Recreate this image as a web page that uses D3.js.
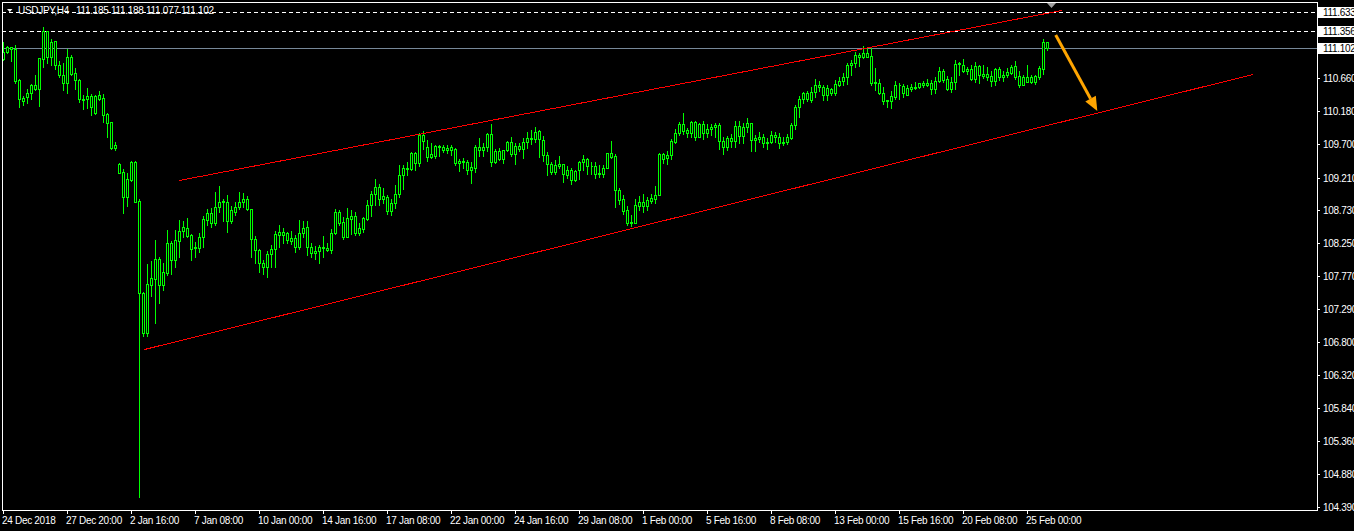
<!DOCTYPE html>
<html><head><meta charset="utf-8">
<script src="https://cdn.jsdelivr.net/npm/d3@7"></script>
<style>
html,body{margin:0;padding:0;background:#000;overflow:hidden;}
svg{display:block;}
text{font-family:"Liberation Sans",Arial,sans-serif;font-size:10px;letter-spacing:-0.3px;}
</style></head><body>
<svg id="chart" width="1354" height="531"></svg>
<script>
// ---------------- data ----------------
const symbol = "USDJPY,H4";
const xTickLabels = ["24 Dec 2018","27 Dec 20:00","2 Jan 16:00","7 Jan 08:00","10 Jan 00:00","14 Jan 16:00",
  "17 Jan 08:00","22 Jan 00:00","24 Jan 16:00","29 Jan 08:00","1 Feb 00:00","5 Feb 16:00","8 Feb 08:00",
  "13 Feb 00:00","15 Feb 16:00","20 Feb 08:00","25 Feb 00:00"];
const barsPerTick = 16;
const yTicks = [104.390,104.880,105.360,105.840,106.320,106.800,107.290,107.770,108.250,108.730,109.210,109.700,110.180,110.660];
const dashedLevels = [111.633, 111.356];
const bidLevel = 111.102;
const priceDomain = [104.3505, 111.775];
const barDomain = [-0.375, 328.375];
// trend lines: [bar1, price1, bar2, price2]
const trendLines = [[43.95,109.169,264.55,111.654],[35.25,106.705,312.375,110.724]];
const arrowLine = [263.05,111.297,273.45,110.186];
// H4 candles [open, high, low, close]
const ohlc = [
[110.943,111.191,110.928,111.045],[111.045,111.133,111.030,111.118],[111.118,111.118,110.913,111.089],[111.089,111.147,110.592,110.621],[110.636,110.650,110.241,110.358],
[110.373,110.402,110.270,110.328],[110.387,110.504,110.299,110.446],[110.446,110.577,110.358,110.563],[110.563,110.709,110.490,110.504],[110.504,110.957,110.255,110.957],
[110.943,111.410,110.826,111.352],[111.352,111.352,110.884,110.972],[110.972,111.235,110.855,111.191],[111.206,111.206,110.796,110.855],[110.855,110.913,110.680,110.709],
[110.709,110.884,110.490,110.592],[110.592,111.089,110.446,110.972],[110.972,111.001,110.709,110.723],[110.738,110.811,110.504,110.636],[110.636,110.650,110.314,110.358],
[110.358,110.416,110.211,110.350],[110.358,110.519,110.226,110.402],[110.402,110.431,110.124,110.241],[110.153,110.416,110.145,110.402],[110.416,110.475,110.350,110.358],
[110.373,110.431,110.021,110.124],[110.138,110.153,109.802,110.007],[110.021,110.021,109.627,109.641],[109.641,109.729,109.612,109.685],[109.408,109.422,109.270,109.276],
[109.291,109.334,108.691,108.925],[108.925,109.276,108.793,109.188],[109.174,109.451,109.159,109.437],[109.437,109.451,108.845,108.852],[108.866,108.896,104.540,107.522],
[107.522,107.537,106.894,106.938],[106.938,107.946,106.894,107.654],[107.639,107.989,107.478,107.741],[107.726,108.296,107.084,108.019],[108.019,108.048,107.376,107.639],
[107.639,107.960,107.566,107.829],[107.814,108.443,107.785,108.253],[108.253,108.282,107.799,108.004],[108.004,108.443,107.902,108.296],[108.282,108.589,108.048,108.428],
[108.428,108.574,108.340,108.486],[108.472,108.618,108.340,108.355],[108.369,108.384,108.004,108.165],[108.194,108.267,108.048,108.179],[108.179,108.399,108.121,108.340],
[108.340,108.647,108.194,108.603],[108.589,108.749,108.516,108.691],[108.691,108.764,108.486,108.545],[108.545,108.998,108.516,108.779],[108.779,109.086,108.706,108.852],
[108.866,108.896,108.574,108.852],[108.852,108.954,108.413,108.574],[108.574,108.793,108.545,108.735],[108.706,108.852,108.662,108.779],[108.779,108.998,108.749,108.852],
[108.852,108.984,108.779,108.896],[108.896,108.940,108.735,108.749],[108.749,108.749,108.048,108.311],[108.311,108.355,107.960,108.150],[108.150,108.165,107.829,107.960],
[107.960,108.004,107.799,107.902],[107.902,108.136,107.756,108.092],[108.092,108.223,107.902,108.165],[108.165,108.428,107.902,108.384],[108.369,108.516,108.194,108.413],
[108.413,108.472,108.253,108.369],[108.399,108.413,108.253,108.296],[108.326,108.428,108.238,108.282],[108.326,108.369,108.121,108.194],[108.194,108.589,108.165,108.399],
[108.399,108.574,108.340,108.472],[108.486,108.574,108.077,108.194],[108.194,108.253,108.048,108.106],[108.136,108.209,108.019,108.106],[108.136,108.223,107.960,108.194],
[108.194,108.355,108.048,108.179],[108.179,108.253,108.136,108.150],[108.150,108.457,108.106,108.399],[108.399,108.749,108.384,108.706],[108.706,108.735,108.516,108.545],
[108.559,108.633,108.311,108.340],[108.340,108.764,108.335,108.618],[108.603,108.735,108.384,108.647],[108.647,108.706,108.369,108.399],[108.399,108.545,108.369,108.472],
[108.457,108.633,108.413,108.618],[108.603,108.881,108.589,108.808],[108.808,109.013,108.647,108.969],[108.969,109.188,108.808,109.071],[109.071,109.115,108.808,108.896],
[108.896,109.057,108.837,108.940],[108.925,108.954,108.676,108.720],[108.720,108.896,108.662,108.837],[108.837,109.101,108.764,108.969],[108.969,109.393,108.925,109.247],
[109.247,109.393,109.042,109.349],[109.349,109.437,109.247,109.334],[109.334,109.583,109.320,109.568],[109.568,109.583,109.320,109.422],[109.422,109.861,109.378,109.831],
[109.831,109.890,109.627,109.744],[109.656,109.758,109.451,109.510],[109.510,109.715,109.495,109.554],[109.525,109.685,109.495,109.671],[109.671,109.685,109.525,109.656],
[109.656,109.685,109.583,109.612],[109.612,109.685,109.568,109.641],[109.612,109.685,109.539,109.656],[109.627,109.641,109.393,109.422],[109.422,109.481,109.305,109.451],
[109.451,109.495,109.349,109.437],[109.437,109.466,109.261,109.320],[109.320,109.437,109.130,109.364],[109.349,109.685,109.291,109.656],[109.656,109.788,109.525,109.612],
[109.612,109.715,109.525,109.656],[109.656,109.861,109.598,109.846],[109.846,109.992,109.378,109.437],[109.437,109.627,109.422,109.598],[109.598,109.641,109.466,109.481],
[109.481,109.612,109.422,109.605],[109.612,109.744,109.598,109.729],[109.729,109.802,109.525,109.554],[109.554,109.715,109.408,109.671],[109.671,109.715,109.598,109.627],
[109.627,109.788,109.495,109.729],[109.729,109.875,109.641,109.788],[109.788,109.905,109.700,109.773],[109.773,109.948,109.729,109.875],[109.890,109.905,109.510,109.773],
[109.758,109.817,109.451,109.539],[109.539,109.583,109.247,109.408],[109.408,109.437,109.261,109.291],[109.291,109.466,109.261,109.393],[109.378,109.525,109.349,109.408],
[109.408,109.408,109.144,109.261],[109.320,109.378,109.203,109.247],[109.320,109.349,109.115,109.174],[109.174,109.320,109.159,109.305],[109.320,109.451,109.188,109.437],
[109.437,109.539,109.320,109.481],[109.481,109.495,109.261,109.378],[109.378,109.437,109.261,109.372],[109.378,109.437,109.203,109.261],[109.276,109.393,109.218,109.261],
[109.261,109.393,109.218,109.349],[109.349,109.568,109.345,109.568],[109.568,109.744,109.495,109.510],[109.525,109.554,108.779,109.027],[109.027,109.057,108.823,108.881],
[108.896,108.954,108.676,108.720],[108.735,108.793,108.516,108.545],[108.545,108.662,108.501,108.559],[108.545,108.896,108.540,108.808],[108.793,108.940,108.735,108.852],
[108.852,108.969,108.706,108.793],[108.793,108.925,108.735,108.881],[108.866,108.969,108.837,108.911],[108.896,109.086,108.837,108.954],[108.954,109.568,108.950,109.554],
[109.554,109.568,109.422,109.481],[109.495,109.598,109.408,109.539],[109.539,109.773,109.481,109.744],[109.729,109.919,109.715,109.861],[109.861,110.021,109.831,109.992],
[109.992,110.153,109.846,109.890],[109.905,109.934,109.802,109.861],[109.861,110.036,109.802,110.021],[110.021,110.036,109.758,109.802],[109.802,110.007,109.795,109.992],
[109.992,110.036,109.773,109.861],[109.919,109.992,109.802,109.861],[109.919,109.992,109.831,109.948],[109.948,110.007,109.802,109.978],[109.978,110.007,109.627,109.744],
[109.744,109.802,109.554,109.656],[109.656,109.817,109.612,109.788],[109.788,109.846,109.656,109.744],[109.744,110.036,109.656,109.963],[109.963,110.036,109.715,109.817],
[109.817,110.007,109.715,109.948],[109.948,110.080,109.875,110.007],[110.007,110.007,109.598,109.758],[109.758,109.831,109.598,109.788],[109.802,109.875,109.729,109.773],
[109.802,109.846,109.656,109.715],[109.715,109.788,109.627,109.729],[109.729,109.890,109.715,109.831],[109.831,109.875,109.729,109.802],[109.802,109.861,109.641,109.715],
[109.715,109.802,109.685,109.729],[109.729,109.846,109.700,109.802],[109.788,110.007,109.773,109.978],[109.978,110.270,109.919,110.241],[110.241,110.402,110.095,110.358],
[110.358,110.460,110.299,110.446],[110.446,110.475,110.328,110.358],[110.343,110.533,110.314,110.460],[110.460,110.650,110.387,110.563],[110.563,110.621,110.475,110.533],
[110.533,110.563,110.343,110.416],[110.416,110.563,110.343,110.519],[110.504,110.519,110.416,110.446],[110.446,110.636,110.416,110.577],[110.563,110.680,110.548,110.621],
[110.621,110.738,110.563,110.680],[110.680,110.884,110.577,110.855],[110.855,110.928,110.709,110.884],[110.884,111.045,110.826,111.001],[111.001,111.030,110.840,110.972],
[110.972,111.133,110.957,111.030],[111.030,111.118,110.965,110.972],[110.987,111.118,110.563,110.592],[110.592,110.811,110.490,110.607],[110.592,110.650,110.431,110.446],
[110.446,110.533,110.285,110.328],[110.328,110.343,110.241,110.343],[110.328,110.475,110.226,110.402],[110.387,110.621,110.358,110.563],[110.563,110.592,110.358,110.556],
[110.548,110.577,110.387,110.446],[110.416,110.563,110.410,110.519],[110.504,110.577,110.475,110.533],[110.533,110.607,110.504,110.519],[110.533,110.592,110.519,110.592],
[110.592,110.621,110.533,110.563],[110.563,110.650,110.548,110.592],[110.592,110.636,110.431,110.504],[110.504,110.680,110.446,110.621],[110.621,110.826,110.607,110.767],
[110.767,110.796,110.607,110.636],[110.650,110.694,110.490,110.504],[110.504,110.680,110.460,110.607],[110.607,110.928,110.504,110.870],[110.884,110.899,110.709,110.870],
[110.855,110.943,110.753,110.767],[110.767,110.826,110.723,110.796],[110.796,110.855,110.636,110.650],[110.650,110.899,110.607,110.840],[110.840,110.855,110.592,110.709],
[110.723,110.855,110.665,110.694],[110.680,110.826,110.636,110.723],[110.694,110.767,110.548,110.621],[110.621,110.811,110.563,110.796],[110.796,110.826,110.636,110.680],
[110.709,110.767,110.621,110.680],[110.709,110.811,110.680,110.753],[110.738,110.855,110.723,110.826],[110.840,110.913,110.650,110.680],[110.694,110.767,110.533,110.563],
[110.563,110.709,110.556,110.680],[110.680,110.855,110.600,110.607],[110.607,110.709,110.592,110.680],[110.694,110.709,110.577,110.607],[110.680,110.840,110.650,110.811],
[110.796,111.235,110.723,111.191],[111.185,111.188,111.077,111.102]
];

// ---------------- drawing ----------------
const svg = d3.select("#chart");
const W = 1354, H = 531;
const plot = {left: 2, right: 1317, top: 2, bottom: 510};
const GREEN = "#00ff00", WHITE = "#ffffff";

svg.append("rect").attr("width", W).attr("height", H).attr("fill", "#000");

const x = d3.scaleLinear().domain(barDomain).range([plot.left - 0.5, plot.right - 0.5]);
const y = d3.scaleLinear().domain(priceDomain).range([plot.bottom, plot.top]).interpolate(d3.interpolateRound);
const xc = i => Math.round(x(i)) + 0.5;

svg.append("defs").append("clipPath").attr("id", "clip")
  .append("rect").attr("x", plot.left + 1).attr("y", plot.top + 1)
  .attr("width", plot.right - plot.left - 1).attr("height", plot.bottom - plot.top - 1);

// horizontal level lines
const levels = svg.append("g").attr("shape-rendering", "crispEdges");
levels.selectAll("line.dash").data(dashedLevels).join("line")
  .attr("x1", plot.left).attr("x2", plot.right)
  .attr("y1", d => y(d) + 0.5).attr("y2", d => y(d) + 0.5)
  .attr("stroke", WHITE).attr("stroke-dasharray", "4,3");
levels.append("line")
  .attr("x1", plot.left).attr("x2", plot.right)
  .attr("y1", y(bidLevel) + 0.5).attr("y2", y(bidLevel) + 0.5)
  .attr("stroke", "#778899");

// candles
const cg = svg.append("g").attr("clip-path", "url(#clip)").attr("shape-rendering", "crispEdges");
const bars = cg.selectAll("g.bar").data(ohlc).join("g").attr("class", "bar");
bars.append("line")
  .attr("x1", (d, i) => xc(i)).attr("x2", (d, i) => xc(i))
  .attr("y1", d => y(d[1])).attr("y2", d => y(d[2]) + 1)
  .attr("stroke", GREEN);
bars.append("path")
  .attr("d", (d, i) => {
    const cx = xc(i);
    const t = y(Math.max(d[0], d[3])) + 0.5, b = y(Math.min(d[0], d[3])) + 0.5;
    return `M${cx - 1},${t}H${cx + 1}V${b}H${cx - 1}Z`;
  })
  .attr("fill", "#000").attr("stroke", GREEN);

// trend lines
svg.append("g").attr("shape-rendering", "crispEdges").selectAll("line").data(trendLines).join("line")
  .attr("x1", d => x(d[0]) + 0.5).attr("y1", d => y(d[1]) + 0.5)
  .attr("x2", d => x(d[2]) + 0.5).attr("y2", d => y(d[3]) + 0.5)
  .attr("stroke", "#ff0000").attr("stroke-width", 1);

// orange arrow
(function () {
  const x1 = x(arrowLine[0]) + 0.5, y1 = y(arrowLine[1]), x2 = x(arrowLine[2]) + 0.5, y2 = y(arrowLine[3]);
  const dx = x2 - x1, dy = y2 - y1, len = Math.hypot(dx, dy);
  const ux = dx / len, uy = dy / len, hl = 14, hw = 6;
  const bx = x2 - ux * hl, by = y2 - uy * hl;
  const ag = svg.append("g");
  ag.append("line").attr("x1", x1).attr("y1", y1).attr("x2", bx).attr("y2", by)
    .attr("stroke", "#ffa500").attr("stroke-width", 3);
  ag.append("path")
    .attr("d", `M${x2},${y2}L${bx - uy * hw},${by + ux * hw}L${bx + uy * hw},${by - ux * hw}Z`)
    .attr("fill", "#ffa500");
})();

// frame
svg.append("rect")
  .attr("x", plot.left + 0.5).attr("y", plot.top + 0.5)
  .attr("width", plot.right - plot.left).attr("height", plot.bottom - plot.top)
  .attr("fill", "none").attr("stroke", WHITE).attr("shape-rendering", "crispEdges");

// chart shift marker
(function () {
  const sx = x(ohlc.length) + 0.5;
  svg.append("path").attr("d", `M${sx - 4.5},${plot.top + 1}H${sx + 4.5}L${sx},${plot.top + 6}Z`).attr("fill", "#a0a0a0");
})();

// y axis (right)
const yAxis = svg.append("g").attr("transform", `translate(${plot.right},0)`)
  .call(d3.axisRight(y).tickValues(yTicks).tickSize(3).tickPadding(3).tickFormat(d3.format(".3f")));
yAxis.select(".domain").remove();
yAxis.selectAll(".tick line").attr("stroke", WHITE).attr("shape-rendering", "crispEdges");
yAxis.selectAll(".tick text").attr("fill", WHITE).attr("dy", "0.35em")
  .style("font-family", '"Liberation Sans",Arial,sans-serif').style("font-size", "10px");

// x axis (bottom)
const tickIdx = xTickLabels.map((_, k) => k * barsPerTick);
const xAxis = svg.append("g").attr("transform", `translate(0,${plot.bottom})`)
  .call(d3.axisBottom(x).tickValues(tickIdx).tickSize(4).tickPadding(3).tickFormat((d, k) => xTickLabels[k]));
xAxis.select(".domain").remove();
xAxis.selectAll(".tick line").attr("stroke", WHITE).attr("shape-rendering", "crispEdges");
xAxis.selectAll(".tick text").attr("fill", WHITE).attr("text-anchor", "start").attr("x", -1.5)
  .style("font-family", '"Liberation Sans",Arial,sans-serif').style("font-size", "10px");

// price labels on the right axis
const boxLevels = dashedLevels.concat([bidLevel]);
const bl = svg.append("g").selectAll("g").data(boxLevels).join("g");
bl.append("rect").attr("x", plot.right + 1).attr("y", d => y(d) - 5).attr("width", 40).attr("height", 11)
  .attr("fill", WHITE).attr("shape-rendering", "crispEdges");
bl.append("text").attr("x", plot.right + 6).attr("y", d => y(d) + 4).attr("fill", "#000")
  .text(d => d3.format(".3f")(d));

// header
svg.append("path").attr("d", "M7,9H12.5L9.75,12Z").attr("fill", WHITE);
const last = ohlc[ohlc.length - 1];
svg.append("text").attr("x", 18).attr("y", 14).attr("fill", WHITE).text(symbol);
svg.append("text").attr("x", 76).attr("y", 14).attr("fill", WHITE)
  .text(last.map(v => d3.format(".3f")(v)).join(" "));
</script>
</body></html>
